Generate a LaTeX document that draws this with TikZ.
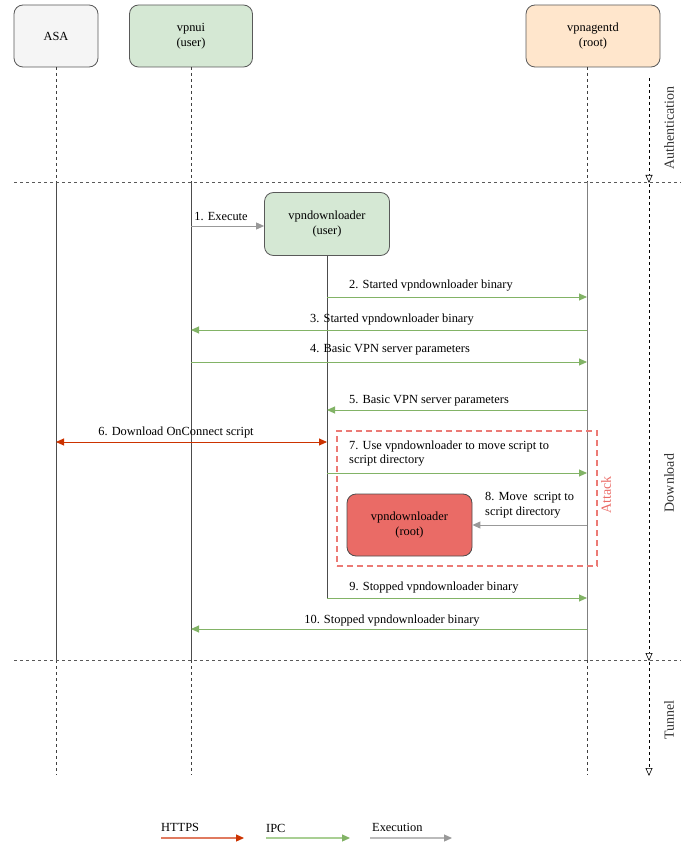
\documentclass[tikz,border=0pt]{standalone}
\usepackage{fontspec}
\setmainfont{Liberation Serif}
\usetikzlibrary{arrows.meta}
\definecolor{ipc}{HTML}{82B366}
\definecolor{ipclight}{HTML}{A9CF94}
\definecolor{https}{HTML}{CC3300}
\definecolor{httpslight}{HTML}{E07A5F}
\definecolor{exec}{HTML}{999999}
\definecolor{execlight}{HTML}{BBBBBB}
\definecolor{attack}{HTML}{EA6B66}
\definecolor{boxgray}{HTML}{F5F5F5}
\definecolor{boxgreen}{HTML}{D5E8D4}
\definecolor{boxorange}{HTML}{FFE6CC}
\definecolor{boxred}{HTML}{EA6B66}
\tikzset{
  x=1pt,y=-1pt,
  every node/.style={font=\fontsize{12.4}{14.5}\selectfont, inner sep=0pt},
  actor/.style={draw=black!65, line width=0.8pt, rounded corners=9pt, align=center, minimum height=62pt},
  life/.style={draw=black!75, line width=0.6pt, dash pattern=on 3pt off 3pt},
  lifesolid/.style={draw=black!70, line width=0.7pt},
  sep/.style={draw=black!65, line width=0.8pt, dash pattern=on 3pt off 3pt},
  ipcarrow/.style={draw=ipc, line width=0.9pt, -{Triangle[length=8pt,width=7pt]}},
  execarrow/.style={draw=exec, line width=0.9pt, -{Triangle[length=8pt,width=7pt]}},
  httpsarrow/.style={draw=https, line width=0.9pt, {Triangle[length=8pt,width=7pt]}-{Triangle[length=8pt,width=7pt]}},
  phase/.style={draw=black, line width=0.6pt, dash pattern=on 3pt off 3pt, -{Triangle[open,length=8pt,width=7pt]}},
  phaselabel/.style={font=\fontsize{14}{16}\selectfont, rotate=90, text=black!80},
  lbl/.style={anchor=center},
}
\begin{document}
\begin{tikzpicture}
\useasboundingbox (0,0) rectangle (687,845);

% actors
\node[actor, fill=boxgray, minimum width=84pt] (asa) at (56,36) {ASA};
\node[actor, fill=boxgreen, minimum width=123pt] (vpnui) at (191,36) {vpnui\\(user)};
\node[actor, fill=boxorange, minimum width=134pt] (agentd) at (593,36) {vpnagentd\\(root)};
\node[actor, fill=boxgreen, minimum width=125pt, minimum height=63pt] (dluser) at (327,224) {vpndownloader\\(user)};

% lifeline coordinates
\coordinate (asaA) at (56,67);  \coordinate (asaB) at (56,182);
\coordinate (asaC) at (56,660); \coordinate (asaD) at (56,775);
\coordinate (uiA) at (191,67);  \coordinate (uiB) at (191,182);
\coordinate (uiC) at (191,660); \coordinate (uiD) at (191,775);
\coordinate (agA) at (587,67);  \coordinate (agB) at (587,182);
\coordinate (agC) at (587,660); \coordinate (agD) at (587,775);
\coordinate (dlEnd) at (327,598);

\draw[life] (asaA) -- (asaB);  \draw[lifesolid] (asaB) -- (asaC);  \draw[life] (asaC) -- (asaD);
\draw[life] (uiA) -- (uiB);    \draw[lifesolid] (uiB) -- (uiC);    \draw[life] (uiC) -- (uiD);
\draw[life] (agA) -- (agB);    \draw[lifesolid, draw=black!50] (agB) -- (agC);    \draw[life] (agC) -- (agD);
\draw[lifesolid] (dluser.south) -- (dlEnd);

% separators
\coordinate (s1l) at (14,182); \coordinate (s1r) at (681,182);
\coordinate (s2l) at (14,660); \coordinate (s2r) at (681,660);
\draw[sep] (s1l) -- (s1r);
\draw[sep] (s2l) -- (s2r);

% phase arrows
\coordinate (p0) at (649,78); \coordinate (p1) at (649,183);
\coordinate (p1b) at (649,184); \coordinate (p2) at (649,661);
\coordinate (p2b) at (649,662); \coordinate (p3) at (649,776);
\draw[phase] (p0) -- (p1);
\draw[phase] (p1b) -- (p2);
\draw[phase] (p2b) -- (p3);
\node[phaselabel] (lauth) at (669,128) {Authentication};
\node[phaselabel] (ldown) at (669,483) {Download};
\node[phaselabel] (ltun) at (669,720) {Tunnel};

% attack box
\node[draw=attack!90, line width=1.6pt, dash pattern=on 6pt off 4pt, minimum width=260pt, minimum height=135pt] (attackbox) at (467,498.5) {};
\node[font=\fontsize{14}{16}\selectfont, rotate=90, text=attack] (attacklbl) at (606,495) {Attack};

% root downloader
\node[actor, fill=boxred, draw=black!70, minimum width=125pt, minimum height=62pt] (dlroot) at (409.5,525) {vpndownloader\\(root)};

% message coordinates
\coordinate (ui1) at (191,226);
\coordinate (dl2) at (327,297); \coordinate (ag2) at (587,297);
\coordinate (ag3) at (587,330); \coordinate (ui3) at (191,330);
\coordinate (ui4) at (191,362); \coordinate (ag4) at (587,362);
\coordinate (ag5) at (587,410); \coordinate (dl5) at (327,410);
\coordinate (asa6) at (56,442); \coordinate (dl6) at (327,442);
\coordinate (dl7) at (327,473); \coordinate (ag7) at (587,473);
\coordinate (ag8) at (587,525);
\coordinate (ag9) at (587,598);
\coordinate (ag10) at (587,629); \coordinate (ui10) at (191,629);

\draw[execarrow] (ui1) -- (dluser.west |- ui1);
\draw[ipcarrow] (dl2) -- (ag2);
\draw[ipcarrow] (ag3) -- (ui3);
\draw[ipcarrow] (ui4) -- (ag4);
\draw[ipcarrow] (ag5) -- (dl5);
\draw[httpsarrow] (asa6) -- (dl6);
\draw[ipcarrow] (dl7) -- (ag7);
\draw[execarrow] (ag8) -- (dlroot.east |- ag8);
\draw[ipcarrow] (dlEnd) -- (ag9);
\draw[ipcarrow] (ag10) -- (ui10);

% message labels
\node[lbl] (m1) at (221,216) {1. Execute};
\node[lbl] (m2) at (431,286) {2. Started vpndownloader binary};
\node[lbl] (m3) at (392,320) {3. Started vpndownloader binary};
\node[lbl] (m4) at (390,350) {4. Basic VPN server parameters};
\node[lbl] (m5) at (429,401) {5. Basic VPN server parameters};
\node[lbl] (m6) at (176,433) {6. Download OnConnect script};
\node[anchor=west, align=left] (m7) at (349,453.5) {7. Use vpndownloader to move script to\\script directory};
\node[anchor=west, align=left] (m8) at (485,505) {8. Move\ \ script to\\script directory};
\node[lbl] (m9) at (434,588) {9. Stopped vpndownloader binary};
\node[lbl] (m10) at (392,621) {10. Stopped vpndownloader binary};

% legend
\node[anchor=west] (lh) at (161,827) {HTTPS};
\node[anchor=west] (li) at (266,828) {IPC};
\node[anchor=west] (le) at (372,827) {Execution};
\coordinate (h1) at (161,838); \coordinate (h2) at (244,838);
\coordinate (i1) at (266,838); \coordinate (i2) at (350,838);
\coordinate (e1) at (370,838); \coordinate (e2) at (452,838);
\draw[draw=httpslight, line width=1.2pt, -{Triangle[length=8pt,width=7pt,color=https]}] (h1) -- (h2);
\draw[draw=ipclight, line width=1.2pt, -{Triangle[length=8pt,width=7pt,color=ipc]}] (i1) -- (i2);
\draw[draw=execlight, line width=1.2pt, -{Triangle[length=8pt,width=7pt,color=exec]}] (e1) -- (e2);
\end{tikzpicture}
\end{document}
